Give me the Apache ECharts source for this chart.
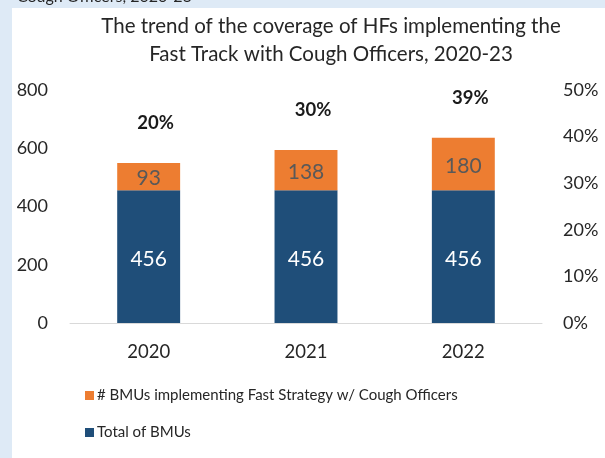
<!DOCTYPE html>
<html>
<head>
<meta charset="utf-8">
<script src="https://cdn.jsdelivr.net/npm/echarts@6/dist/echarts.min.js"></script>
<style>
  html, body { margin: 0; padding: 0; background: #DEEAF6; }
  #chart { width: 605px; height: 458px; }
</style>
</head>
<body>
<div id="chart"></div>
<script>
// Years shown on the category axis
const years = ['2020', '2021', '2022'];
// Total number of BMUs (bottom segment)
const totalBMUs = [456, 456, 456];
// BMUs implementing the Fast Strategy with Cough Officers (top segment)
const fastTrackBMUs = [93, 138, 180];
// Coverage shares written above each bar
const coverageShare = [0.20, 0.30, 0.39];
// Tick labels of the right-hand percentage axis
const percentTicks = ['0%', '10%', '20%', '30%', '40%', '50%'];

const FONT = 'Lato, "Open Sans", sans-serif';
const chart = echarts.init(document.getElementById('chart'), null, { renderer: 'canvas' });

chart.setOption({
  backgroundColor: '#DEEAF6',
  animation: false,
  textStyle: { fontFamily: FONT },
  graphic: [
    { type: 'rect', shape: { x: 12, y: 8, width: 600, height: 460 }, style: { fill: '#FFFFFF' }, z: -10 },
    { type: 'text', left: 17, top: -11, style: { text: 'Cough Officers, 2020-23', font: '16px ' + FONT, fill: '#262626' } }
  ],
  title: {
    text: 'The trend of the coverage of HFs implementing the\nFast Track with Cough Officers, 2020-23',
    left: 326, top: 7, textAlign: 'center',
    textStyle: { fontFamily: FONT, fontSize: 20.5, fontWeight: 'normal', color: '#262626', lineHeight: 28 }
  },
  legend: {
    orient: 'vertical', left: 80, top: 383,
    itemWidth: 9, itemHeight: 9, itemGap: 22, icon: 'rect',
    textStyle: { fontFamily: FONT, fontSize: 15, color: '#262626', padding: [0, 0, 0, -2] },
    data: ['# BMUs implementing Fast Strategy w/ Cough Officers', 'Total of BMUs']
  },
  grid: { left: 70, right: 63, top: 90, bottom: 135 },
  xAxis: {
    type: 'category', data: years,
    axisLine: { lineStyle: { color: '#D9D9D9', width: 1 } },
    axisTick: { show: false },
    axisLabel: { fontSize: 18.5, color: '#262626', margin: 20 }
  },
  yAxis: [
    {
      type: 'value', min: 0, max: 800, interval: 200,
      splitLine: { show: false },
      axisLabel: { fontSize: 18, color: '#262626', margin: 22 }
    },
    {
      type: 'value', min: 0, max: 0.5, interval: 0.1, position: 'right',
      splitLine: { show: false },
      axisLabel: { fontSize: 18, color: '#262626', margin: 21, align: 'left',
        formatter: v => percentTicks[Math.round(v * 10)] }
    },
    {
      // hidden scale that places the coverage labels above the bars
      type: 'value', min: -1.3, max: 0.45, show: false
    }
  ],
  series: [
    {
      name: 'Total of BMUs', type: 'bar', stack: 'bmu', data: totalBMUs,
      barWidth: '40%', itemStyle: { color: '#1F4E79' },
      label: { show: true, position: 'inside', color: '#FFFFFF', fontSize: 21, fontFamily: FONT, offset: [0, 3] }
    },
    {
      name: '# BMUs implementing Fast Strategy w/ Cough Officers', type: 'bar', stack: 'bmu', data: fastTrackBMUs,
      itemStyle: { color: '#ED7D31' },
      label: { show: true, position: 'inside', color: '#595959', fontSize: 21, fontFamily: FONT, offset: [0, 2] }
    },
    {
      name: 'Coverage', type: 'line', yAxisIndex: 2, data: coverageShare,
      lineStyle: { opacity: 0 }, symbol: 'circle', symbolSize: 1, showSymbol: true,
      itemStyle: { color: 'rgba(0,0,0,0)' },
      label: { show: true, position: 'inside', color: '#1A1A1A', fontWeight: 'bold', fontSize: 18.5, fontFamily: FONT,
        offset: [7, 0], formatter: p => Math.round(p.value * 100) + '%' }
    }
  ]
});
</script>
</body>
</html>
